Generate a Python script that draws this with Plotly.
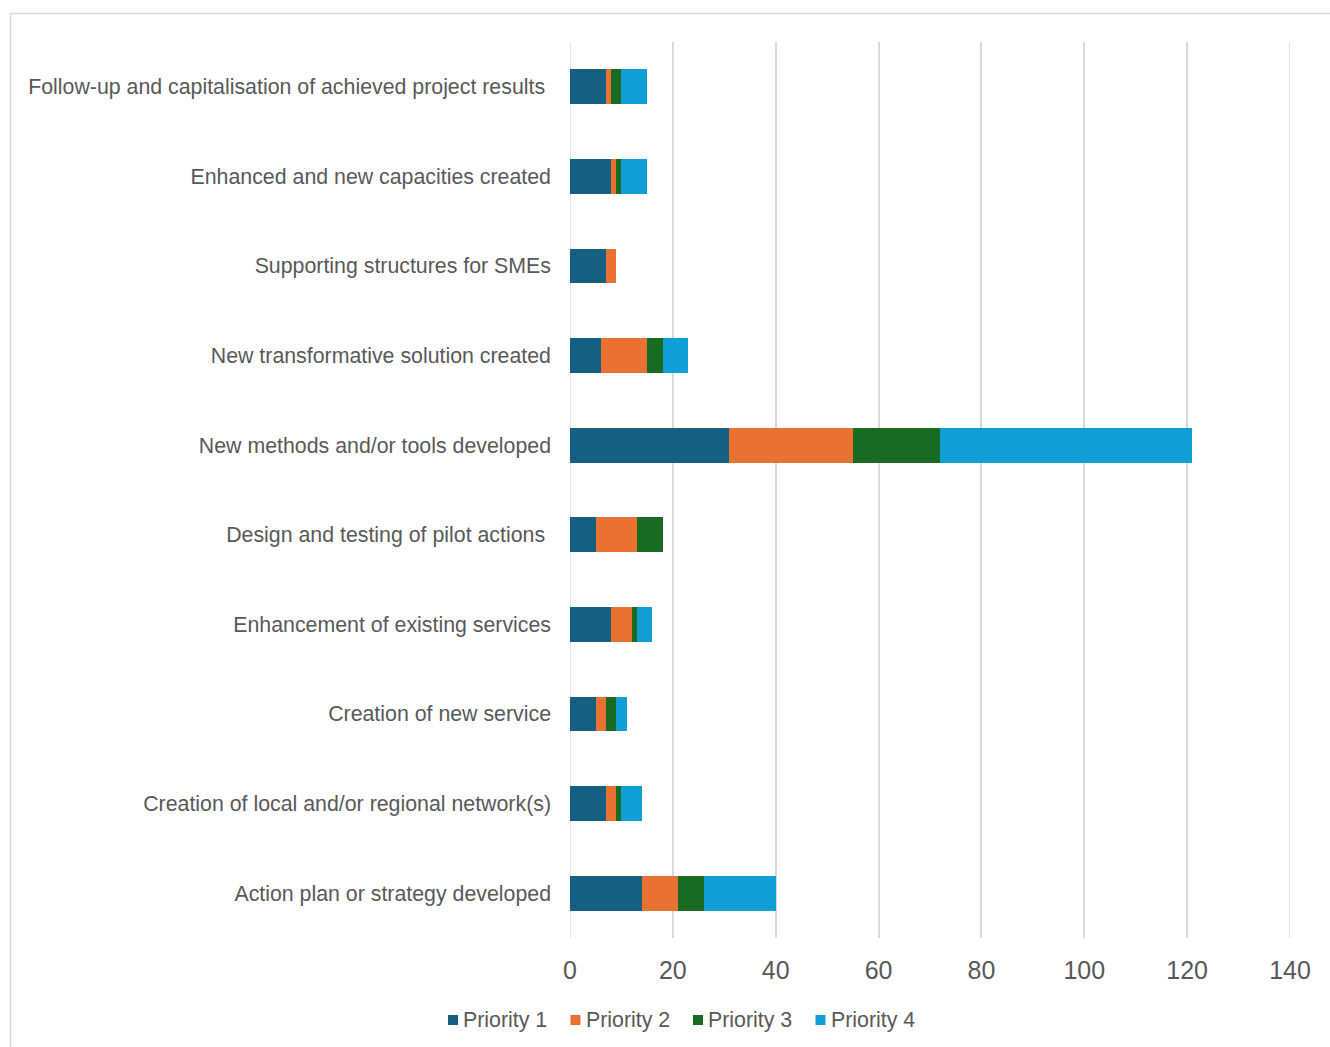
import plotly.graph_objects as go

# Output categories, listed top to bottom
categories = [
    "Follow-up and capitalisation of achieved project results\u00a0",
    "Enhanced and new capacities created",
    "Supporting structures for SMEs",
    "New transformative solution created",
    "New methods and/or tools developed",
    "Design and testing of pilot actions\u00a0",
    "Enhancement of existing services",
    "Creation of new service",
    "Creation of local and/or regional network(s)",
    "Action plan or strategy developed",
]

priority_1 = [7, 8, 7, 6, 31, 5, 8, 5, 7, 14]
priority_2 = [1, 1, 2, 9, 24, 8, 4, 2, 2, 7]
priority_3 = [2, 1, 0, 3, 17, 5, 1, 2, 1, 5]
priority_4 = [5, 5, 0, 5, 49, 0, 3, 2, 4, 14]

series_names = ["Priority 1", "Priority 2", "Priority 3", "Priority 4"]
series_values = [priority_1, priority_2, priority_3, priority_4]
series_colors = ["#156082", "#E97132", "#196B24", "#0F9ED5"]

x_ticks = [0, 20, 40, 60, 80, 100, 120, 140]

fig = go.Figure()
for name, vals, col in zip(series_names, series_values, series_colors):
    fig.add_trace(go.Bar(
        y=categories,
        x=vals,
        name=name,
        orientation="h",
        marker=dict(color=col, line=dict(width=0)),
        showlegend=False,
    ))

W, H = 1330, 1047
ml, mr, mt, mb = 570, 40, 42, 109
pw = W - ml - mr
ph = H - mt - mb


def px_x(px):
    return (px - ml) / pw


def px_y(py):
    return (mt + ph - py) / ph


text_color = "#595959"
grid_color = "#D9D9D9"

fig.update_layout(
    width=W,
    height=H,
    barmode="stack",
    bargap=0.61,
    margin=dict(l=ml, r=mr, t=mt, b=mb, autoexpand=False),
    paper_bgcolor="white",
    plot_bgcolor="white",
    font=dict(family="Liberation Sans, Arial, sans-serif", color=text_color, size=21.33),
    xaxis=dict(
        range=[0, 140],
        tickvals=x_ticks,
        showgrid=True,
        gridcolor=grid_color,
        gridwidth=1.5,
        zeroline=False,
        showline=False,
        ticks="",
        tickfont=dict(size=25, color=text_color),
        ticklabelstandoff=15,
        fixedrange=True,
    ),
    yaxis=dict(
        autorange="reversed",
        showgrid=False,
        showline=False,
        zeroline=False,
        ticks="",
        ticklabelstandoff=18,
        tickfont=dict(size=21.33, color=text_color),
        fixedrange=True,
    ),
    showlegend=False,
)

# Edge gridlines at the ends of the value range
for xv in (x_ticks[0], x_ticks[-1]):
    fig.add_shape(
        type="line", xref="x", yref="paper",
        x0=xv, x1=xv, y0=0, y1=1,
        line=dict(color=grid_color, width=1.5),
        layer="below",
    )

# Legend row beneath the axis
legend_x0 = 448
legend_step = 122.5
legend_y = 1020
for i, (name, col) in enumerate(zip(series_names, series_colors)):
    left = legend_x0 + i * legend_step
    fig.add_shape(
        type="rect", xref="paper", yref="paper",
        x0=px_x(left), x1=px_x(left + 10),
        y0=px_y(legend_y + 5), y1=px_y(legend_y - 5),
        line=dict(width=0), fillcolor=col,
    )
    fig.add_annotation(
        xref="paper", yref="paper",
        x=px_x(left + 13), y=px_y(legend_y),
        xanchor="left", yanchor="middle",
        text=name, showarrow=False,
        font=dict(size=21.33, color=text_color),
    )

# Light chart-area border
fig.add_shape(
    type="rect",
    xref="paper", yref="paper",
    x0=px_x(10.5), x1=px_x(W + 20),
    y0=px_y(H + 20), y1=px_y(13.5),
    line=dict(color=grid_color, width=1.5),
    fillcolor="rgba(0,0,0,0)",
    layer="below",
)

fig.write_html("out.html")
